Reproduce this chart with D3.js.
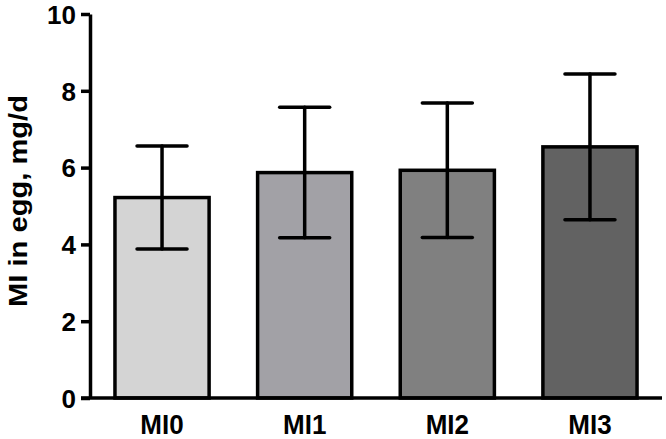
<!DOCTYPE html>
<html>
<head>
<meta charset="utf-8" />
<script src="https://d3js.org/d3.v7.min.js"></script>
<style>
  body { margin: 0; background: #fff; }
  text { font-family: "Liberation Sans", Arial, sans-serif; font-weight: bold; fill: #000; }
</style>
</head>
<body>
<div id="chart"></div>
<script>
// data
const groups = ["MI0", "MI1", "MI2", "MI3"];
const means = [5.22, 5.87, 5.93, 6.54];
const errs = [1.34, 1.70, 1.75, 1.90];
const fills = ["#d4d4d4", "#a2a1a6", "#808080", "#626262"];
const yTicks = [0, 2, 4, 6, 8, 10];

const W = 666, H = 439;
const plotL = 90, plotR = 662, plotT = 14, plotB = 398;

const svg = d3.select("#chart").append("svg")
    .attr("width", W).attr("height", H);

const x = d3.scaleBand()
    .domain(groups)
    .range([plotL, plotR])
    .paddingInner(0.34)
    .paddingOuter(0.175);

const y = d3.scaleLinear()
    .domain([0, 10])
    .range([plotB, plotT]);

// bars
svg.append("g")
    .selectAll("rect")
    .data(groups)
    .join("rect")
    .attr("x", d => x(d))
    .attr("y", (d, i) => y(means[i]))
    .attr("width", x.bandwidth())
    .attr("height", (d, i) => y(0) - y(means[i]))
    .attr("fill", (d, i) => fills[i])
    .attr("stroke", "#000")
    .attr("stroke-width", 3.5);

// error bars
const eb = svg.append("g")
    .attr("stroke", "#000")
    .attr("stroke-width", 3.5)
    .attr("stroke-linecap", "round");
groups.forEach((g, i) => {
    const cx = x(g) + x.bandwidth() / 2;
    const hi = y(means[i] + errs[i]), lo = y(means[i] - errs[i]);
    eb.append("line").attr("x1", cx).attr("x2", cx).attr("y1", hi).attr("y2", lo);
    eb.append("line").attr("x1", cx - 25).attr("x2", cx + 25).attr("y1", hi).attr("y2", hi);
    eb.append("line").attr("x1", cx - 25).attr("x2", cx + 25).attr("y1", lo).attr("y2", lo);
});

// y axis
const yAxis = svg.append("g")
    .attr("transform", `translate(${plotL},0)`)
    .call(d3.axisLeft(y).tickValues(yTicks).tickSize(9).tickPadding(5).tickSizeOuter(0));
yAxis.select(".domain").attr("stroke-width", 3.5);
yAxis.selectAll(".tick line").attr("stroke-width", 3.5);
yAxis.selectAll(".tick text").style("font-size", "26px").attr("dy", "0.36em");

// x axis
const xAxis = svg.append("g")
    .attr("transform", `translate(0,${plotB})`)
    .call(d3.axisBottom(x).tickSize(0).tickSizeOuter(0));
xAxis.select(".domain").attr("stroke-width", 3.5).attr("d", `M${plotL - 9},0H${plotR}`);
xAxis.selectAll(".tick text")
    .attr("y", 0).attr("dy", null)
    .style("font-size", "26px")
    .attr("transform", "translate(0,36) scale(1,1.08)");

// y label
svg.append("text")
    .attr("transform", `translate(27,201) rotate(-90) scale(1.12,1)`)
    .attr("text-anchor", "middle")
    .style("font-size", "26px")
    .text("MI in egg, mg/d");
</script>
</body>
</html>
